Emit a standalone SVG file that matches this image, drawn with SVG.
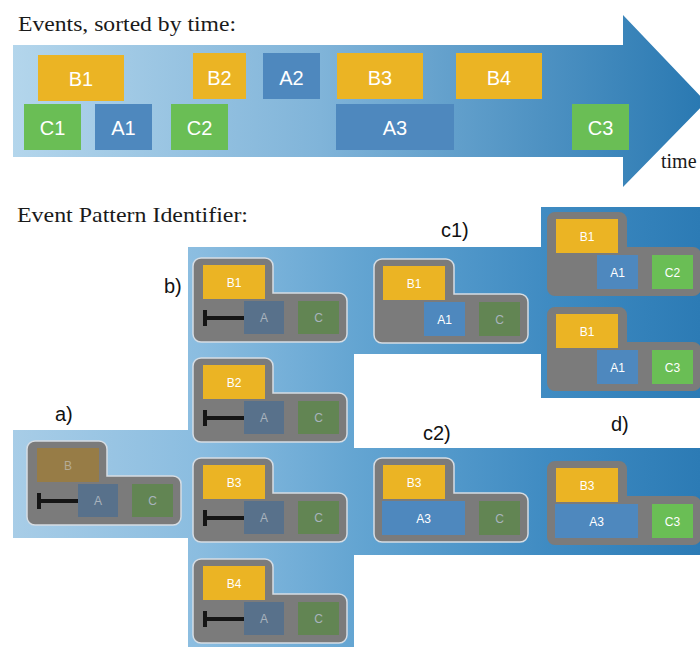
<svg xmlns="http://www.w3.org/2000/svg" xmlns:xlink="http://www.w3.org/1999/xlink" width="700" height="647" viewBox="0 0 700 647">
<style>
.serif{font-family:"Liberation Serif","DejaVu Serif",serif;fill:#1a1a1a}
.lbl{font-family:"Liberation Sans",Arial,sans-serif;font-size:20px;fill:#111}
.ev{font-family:"Liberation Sans",Arial,sans-serif;font-size:20px;fill:#fff;text-anchor:middle}
.nt{font-family:"Liberation Sans",Arial,sans-serif;font-size:12px;text-anchor:middle}
.w{fill:#fff}
.dimt{fill:#a9b3bd}
.yel{fill:#ebb424}
.blu{fill:#4e88be}
.grn{fill:#6abe55}
.dimb{fill:#58718b}
.dimc{fill:#628553}
.dimy{fill:#977c46}
.shape{fill:#7b7b7b}
.outl{stroke:#d6dde4;stroke-width:1.5}
.bar{stroke:#151515;stroke-width:4}
</style>
<defs>
<linearGradient id="gTop" gradientUnits="userSpaceOnUse" x1="10" y1="0" x2="700" y2="0">
<stop offset="0" stop-color="#b4d6ec"/>
<stop offset="0.45" stop-color="#80b4d9"/>
<stop offset="1" stop-color="#2a79b2"/>
</linearGradient>
<linearGradient id="gBot" gradientUnits="userSpaceOnUse" x1="10" y1="0" x2="700" y2="0">
<stop offset="0" stop-color="#a8cde7"/>
<stop offset="0.27" stop-color="#8bbde0"/>
<stop offset="0.5" stop-color="#64a5d2"/>
<stop offset="0.78" stop-color="#3f8bc2"/>
<stop offset="1" stop-color="#2c7bb5"/>
</linearGradient>
<path id="ns" d="M8,0 H72 A8,8 0 0 1 80,8 V35 H146 A8,8 0 0 1 154,43 V76 A8,8 0 0 1 146,84 H8 A8,8 0 0 1 0,76 V8 A8,8 0 0 1 8,0 Z"/>
<g id="tbar">
<line class="bar" x1="11" y1="60" x2="51" y2="60"/>
<rect x="10" y="52" width="4" height="16" fill="#151515"/>
</g>
</defs>
<rect width="700" height="647" fill="#fff"/>

<text class="serif" x="18" y="31" font-size="21" textLength="218" lengthAdjust="spacingAndGlyphs">Events, sorted by time:</text>
<g id="timeline">
<path d="M13,45 H623 V15 L706,102 L623,187 V157 H13 Z" fill="url(#gTop)"/>
<text class="serif" x="661" y="168" font-size="20">time</text>
</g>
<g id="events">
<g id="ev-B1"><rect class="yel" x="38" y="55" width="86" height="46"/><text class="ev" x="81" y="86">B1</text></g>
<g id="ev-B2"><rect class="yel" x="193" y="53" width="53" height="46"/><text class="ev" x="219.5" y="85">B2</text></g>
<g id="ev-A2"><rect class="blu" x="263" y="53" width="57" height="46"/><text class="ev" x="291.5" y="85">A2</text></g>
<g id="ev-B3"><rect class="yel" x="337" y="53" width="86" height="46"/><text class="ev" x="380" y="85">B3</text></g>
<g id="ev-B4"><rect class="yel" x="456" y="53" width="86" height="46"/><text class="ev" x="499" y="85">B4</text></g>
<g id="ev-C1"><rect class="grn" x="24" y="104" width="57" height="46"/><text class="ev" x="52.5" y="135">C1</text></g>
<g id="ev-A1"><rect class="blu" x="95" y="104" width="57" height="46"/><text class="ev" x="123.5" y="135">A1</text></g>
<g id="ev-C2"><rect class="grn" x="171" y="104" width="57" height="46"/><text class="ev" x="199.5" y="135">C2</text></g>
<g id="ev-A3"><rect class="blu" x="336" y="104" width="118" height="46"/><text class="ev" x="395" y="135">A3</text></g>
<g id="ev-C3"><rect class="grn" x="572" y="104" width="57" height="46"/><text class="ev" x="600.5" y="135">C3</text></g>
</g>

<text class="serif" x="17" y="222" font-size="21" textLength="231" lengthAdjust="spacingAndGlyphs">Event Pattern Identifier:</text>

<g id="connectors">
<path d="M13,430 H188 V247 H541 V207 H700 V398 H541 V354 H354 V448 H700 V555 H354 V647 H188 V538 H13 Z" fill="url(#gBot)"/>
</g>

<text class="lbl" x="55" y="421">a)</text>
<text class="lbl" x="164" y="293">b)</text>
<text class="lbl" x="441" y="237">c1)</text>
<text class="lbl" x="423" y="440">c2)</text>
<text class="lbl" x="611" y="431">d)</text>

<g id="node-a" transform="translate(27,441)">
<use xlink:href="#ns" class="shape outl"/>
<rect class="dimy" x="10" y="7" width="62" height="34"/><text class="nt" x="41" y="28.5" fill="#b5ab96">B</text>
<rect class="dimb" x="51" y="43" width="40" height="33"/><text class="nt dimt" x="71" y="64">A</text>
<rect class="dimc" x="105" y="43" width="41" height="33"/><text class="nt dimt" x="125.5" y="64">C</text>
<use xlink:href="#tbar"/>
</g>

<g id="node-b1" transform="translate(193,258)">
<use xlink:href="#ns" class="shape outl"/>
<rect class="yel" x="10" y="7" width="62" height="34"/><text class="nt w" x="41" y="28.5">B1</text>
<rect class="dimb" x="51" y="43" width="40" height="33"/><text class="nt dimt" x="71" y="64">A</text>
<rect class="dimc" x="105" y="43" width="41" height="33"/><text class="nt dimt" x="125.5" y="64">C</text>
<use xlink:href="#tbar"/>
</g>
<g id="node-b2" transform="translate(193,358)">
<use xlink:href="#ns" class="shape outl"/>
<rect class="yel" x="10" y="7" width="62" height="34"/><text class="nt w" x="41" y="28.5">B2</text>
<rect class="dimb" x="51" y="43" width="40" height="33"/><text class="nt dimt" x="71" y="64">A</text>
<rect class="dimc" x="105" y="43" width="41" height="33"/><text class="nt dimt" x="125.5" y="64">C</text>
<use xlink:href="#tbar"/>
</g>
<g id="node-b3" transform="translate(193,458)">
<use xlink:href="#ns" class="shape outl"/>
<rect class="yel" x="10" y="7" width="62" height="34"/><text class="nt w" x="41" y="28.5">B3</text>
<rect class="dimb" x="51" y="43" width="40" height="33"/><text class="nt dimt" x="71" y="64">A</text>
<rect class="dimc" x="105" y="43" width="41" height="33"/><text class="nt dimt" x="125.5" y="64">C</text>
<use xlink:href="#tbar"/>
</g>
<g id="node-b4" transform="translate(193,559)">
<use xlink:href="#ns" class="shape outl"/>
<rect class="yel" x="10" y="7" width="62" height="34"/><text class="nt w" x="41" y="28.5">B4</text>
<rect class="dimb" x="51" y="43" width="40" height="33"/><text class="nt dimt" x="71" y="64">A</text>
<rect class="dimc" x="105" y="43" width="41" height="33"/><text class="nt dimt" x="125.5" y="64">C</text>
<use xlink:href="#tbar"/>
</g>

<g id="node-c1" transform="translate(374,259)">
<use xlink:href="#ns" class="shape outl"/>
<rect class="yel" x="9" y="7" width="62" height="34"/><text class="nt w" x="40" y="28.5">B1</text>
<rect class="blu" x="50" y="43" width="41" height="34"/><text class="nt w" x="70.5" y="64.5">A1</text>
<rect class="dimc" x="105" y="43" width="41" height="34"/><text class="nt dimt" x="125.5" y="64.5">C</text>
</g>
<g id="node-c2" transform="translate(374,458)">
<use xlink:href="#ns" class="shape outl"/>
<rect class="yel" x="9" y="7" width="62" height="34"/><text class="nt w" x="40" y="28.5">B3</text>
<rect class="blu" x="8" y="43" width="83" height="34"/><text class="nt w" x="49.5" y="64.5">A3</text>
<rect class="dimc" x="105" y="43" width="41" height="34"/><text class="nt dimt" x="125.5" y="64.5">C</text>
</g>

<g id="node-d1" transform="translate(547,212)">
<use xlink:href="#ns" class="shape"/>
<rect class="yel" x="9" y="7" width="62" height="34"/><text class="nt w" x="40" y="28.5">B1</text>
<rect class="blu" x="50" y="43" width="41" height="34"/><text class="nt w" x="70.5" y="64.5">A1</text>
<rect class="grn" x="105" y="43" width="41" height="34"/><text class="nt w" x="125.5" y="64.5">C2</text>
</g>
<g id="node-d2" transform="translate(547,307)">
<use xlink:href="#ns" class="shape"/>
<rect class="yel" x="9" y="7" width="62" height="34"/><text class="nt w" x="40" y="28.5">B1</text>
<rect class="blu" x="50" y="43" width="41" height="34"/><text class="nt w" x="70.5" y="64.5">A1</text>
<rect class="grn" x="105" y="43" width="41" height="34"/><text class="nt w" x="125.5" y="64.5">C3</text>
</g>
<g id="node-d3" transform="translate(547,461)">
<use xlink:href="#ns" class="shape"/>
<rect class="yel" x="9" y="7" width="62" height="34"/><text class="nt w" x="40" y="28.5">B3</text>
<rect class="blu" x="8" y="43" width="83" height="34"/><text class="nt w" x="49.5" y="64.5">A3</text>
<rect class="grn" x="105" y="43" width="41" height="34"/><text class="nt w" x="125.5" y="64.5">C3</text>
</g>
</svg>
